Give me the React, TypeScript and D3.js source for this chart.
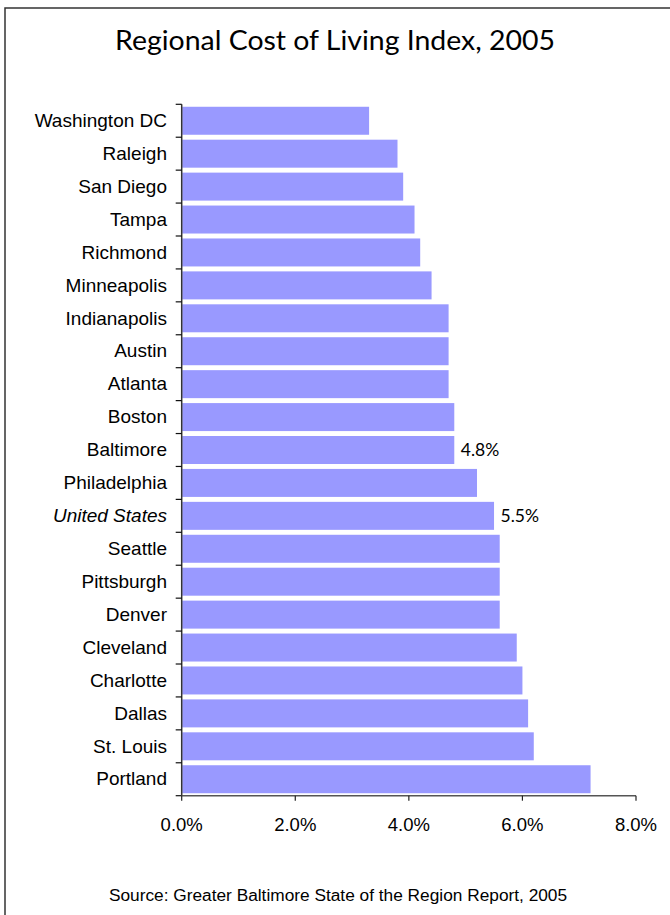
import React from "react";
import * as d3 from "d3";

const cities = [
  "Washington DC", "Raleigh", "San Diego", "Tampa", "Richmond", "Minneapolis",
  "Indianapolis", "Austin", "Atlanta", "Boston", "Baltimore", "Philadelphia",
  "United States", "Seattle", "Pittsburgh", "Denver", "Cleveland", "Charlotte",
  "Dallas", "St. Louis", "Portland",
];
const values = [
  3.3, 3.8, 3.9, 4.1, 4.2, 4.4, 4.7, 4.7, 4.7, 4.8, 4.8, 5.2,
  5.5, 5.6, 5.6, 5.6, 5.9, 6.0, 6.1, 6.2, 7.2,
];
const labeled = ["Baltimore", "United States"];
const italicCats = ["United States"];
const xTicks = [0, 2, 4, 6, 8];
const title = "Regional Cost of Living Index, 2005";
const source = "Source: Greater Baltimore State of the Region Report, 2005";

const W = 670;
const H = 915;
const left = 181.7;
const right = 636;
const top = 104.3;
const bottom = 795.7;

export default function App() {
  const x = d3.scaleLinear().domain([0, 8]).range([left, right]);
  const y = d3.scaleBand<string>().domain(cities).range([top, bottom]).paddingInner(0.15).paddingOuter(0.075);
  const band = (bottom - top) / cities.length;
  const sans = "Arial, Liberation Sans, Helvetica, sans-serif";
  const humanist = "Lato, Open Sans, sans-serif";
  return (
    <svg width={W} height={H} style={{ position: "absolute", left: 0, top: 0, background: "#fff" }}>
      <rect x={0} y={0} width={W} height={H} fill="#fff" />
      <path d={`M5,${H + 5} V8 H${W + 5}`} fill="none" stroke="#333" strokeWidth={1.5} />
      <text x={335} y={50} textAnchor="middle" fontFamily={humanist} fontSize={27} fill="#000" textLength={440} lengthAdjust="spacingAndGlyphs">
        {title}
      </text>
      {cities.map((c, i) => (
        <rect key={c} x={x(0) + 0.5} y={y(c)!} width={x(values[i]) - x(0) - 0.5} height={y.bandwidth()} fill="#9999FF" />
      ))}
      <line x1={x(0)} x2={x(0)} y1={top} y2={bottom} stroke="#333" strokeWidth={1.5} />
      {d3.range(cities.length + 1).map((i) => (
        <line key={i} x1={x(0) - 6} x2={x(0)} y1={top + i * band} y2={top + i * band} stroke="#111" strokeWidth={1.2} />
      ))}
      {cities.map((c) => (
        <text key={c} x={167} y={y(c)! + y.bandwidth() / 2 + 6.2} textAnchor="end" style={{ fontFamily: sans }} fontSize={19}
          fontStyle={italicCats.includes(c) ? "italic" : "normal"} fill="#000">
          {c}
        </text>
      ))}
      <line x1={x(0)} x2={x(8)} y1={bottom} y2={bottom} stroke="#555" strokeWidth={1.5} />
      {xTicks.map((t) => (
        <g key={t}>
          <line x1={x(t)} x2={x(t)} y1={bottom} y2={bottom + 5} stroke="#222" strokeWidth={1.2} />
          <text x={x(t)} y={bottom + 35} textAnchor="middle" style={{ fontFamily: sans }} fontSize={18.5} fill="#000">
            {d3.format(".1f")(t) + "%"}
          </text>
        </g>
      ))}
      {cities.map((c, i) =>
        labeled.includes(c) ? (
          <text key={c} x={x(values[i]) + 6.5} y={y(c)! + y.bandwidth() / 2 + 6.3} style={{ fontFamily: humanist }} fontSize={17.5} fill="#000">
            {d3.format(".1f")(values[i]) + "%"}
          </text>
        ) : null
      )}
      <text x={338} y={901} textAnchor="middle" style={{ fontFamily: sans }} fontSize={17.3} fill="#000">
        {source}
      </text>
    </svg>
  );
}
